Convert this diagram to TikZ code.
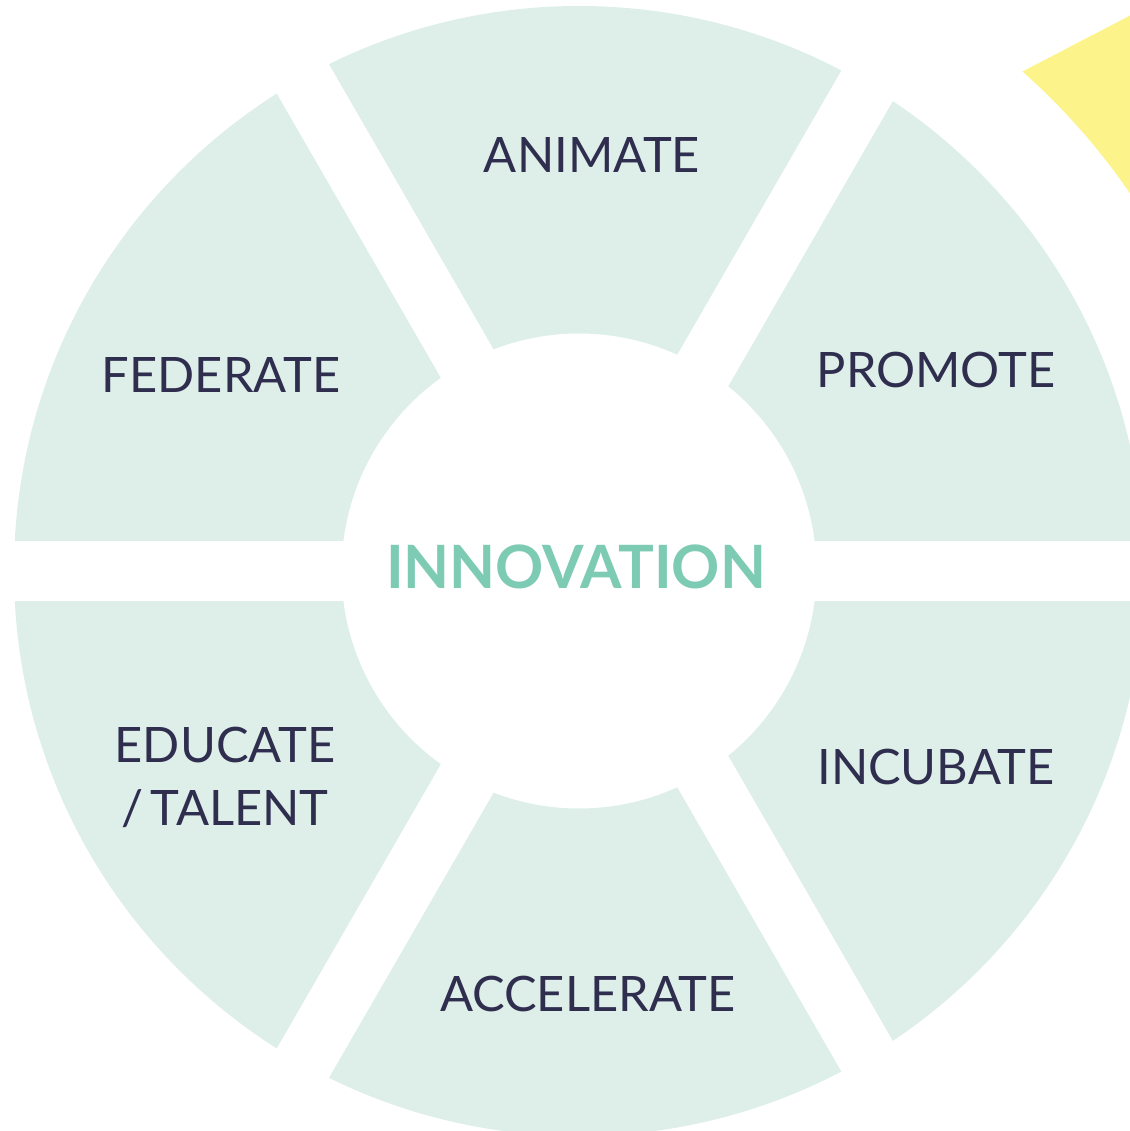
\documentclass[tikz,border=0pt]{standalone}
\usepackage{fontspec}
\setmainfont{Lato}
\definecolor{mint}{HTML}{DDEFE8}
\definecolor{ink}{HTML}{2F2E4F}
\definecolor{innoteal}{HTML}{7ECBB3}
\definecolor{sun}{HTML}{FCF48A}

\def\ringout{5.65}
\def\ringin{2.375}
\def\apexdist{0.60}

\begin{document}
\begin{tikzpicture}
    \tikzstyle{sector}=[fill=mint, even odd rule]
    \tikzstyle{stage}=[text=ink, font=\fontsize{13.9}{17.9}\selectfont, align=center]
    \tikzstyle{core}=[text=innoteal, font=\fontsize{17}{20}\selectfont\bfseries]

    \useasboundingbox (-5.79,-5.60) rectangle (5.51,5.71);
    \clip (-5.79,-5.60) rectangle (5.51,5.71);

    % Draw the yellow band in the corner
    \fill[sun] (30:6.68) arc[start angle=30, end angle=48.4, radius=6.68]
        -- ++(27.5:2) -- (6.5,3) -- cycle;

    % Draw the six sectors of the ring
    \coordinate (hub) at (0.08,0);
    \foreach \a in {0,60,...,300} {
        \begin{scope}
            \clip (hub) ++(\a+30:\apexdist) -- ++(\a:8) -- ++(\a+120:8) -- cycle;
            \fill[sector] (0,0) circle[radius=\ringout] (0,0) circle[radius=\ringin];
        \end{scope}
    }

    % Label the sectors
    \node[stage] (animate) at (0.13,4.16) {ANIMATE};
    \node[stage] (federate) at (-3.58,1.96) {FEDERATE};
    \node[stage] (promote) at (3.57,2.01) {PROMOTE};
    \node[stage] (educate) at (-3.54,-2.065) {EDUCATE\\/\kern2pt TALENT};
    \node[stage] (incubate) at (3.57,-1.96) {INCUBATE};
    \node[stage] (accelerate) at (0.09,-4.23) {ACCELERATE};

    % The centre
    \node[core] (innovation) at (-0.03,0.04) {INNOVATION};
\end{tikzpicture}
\end{document}
